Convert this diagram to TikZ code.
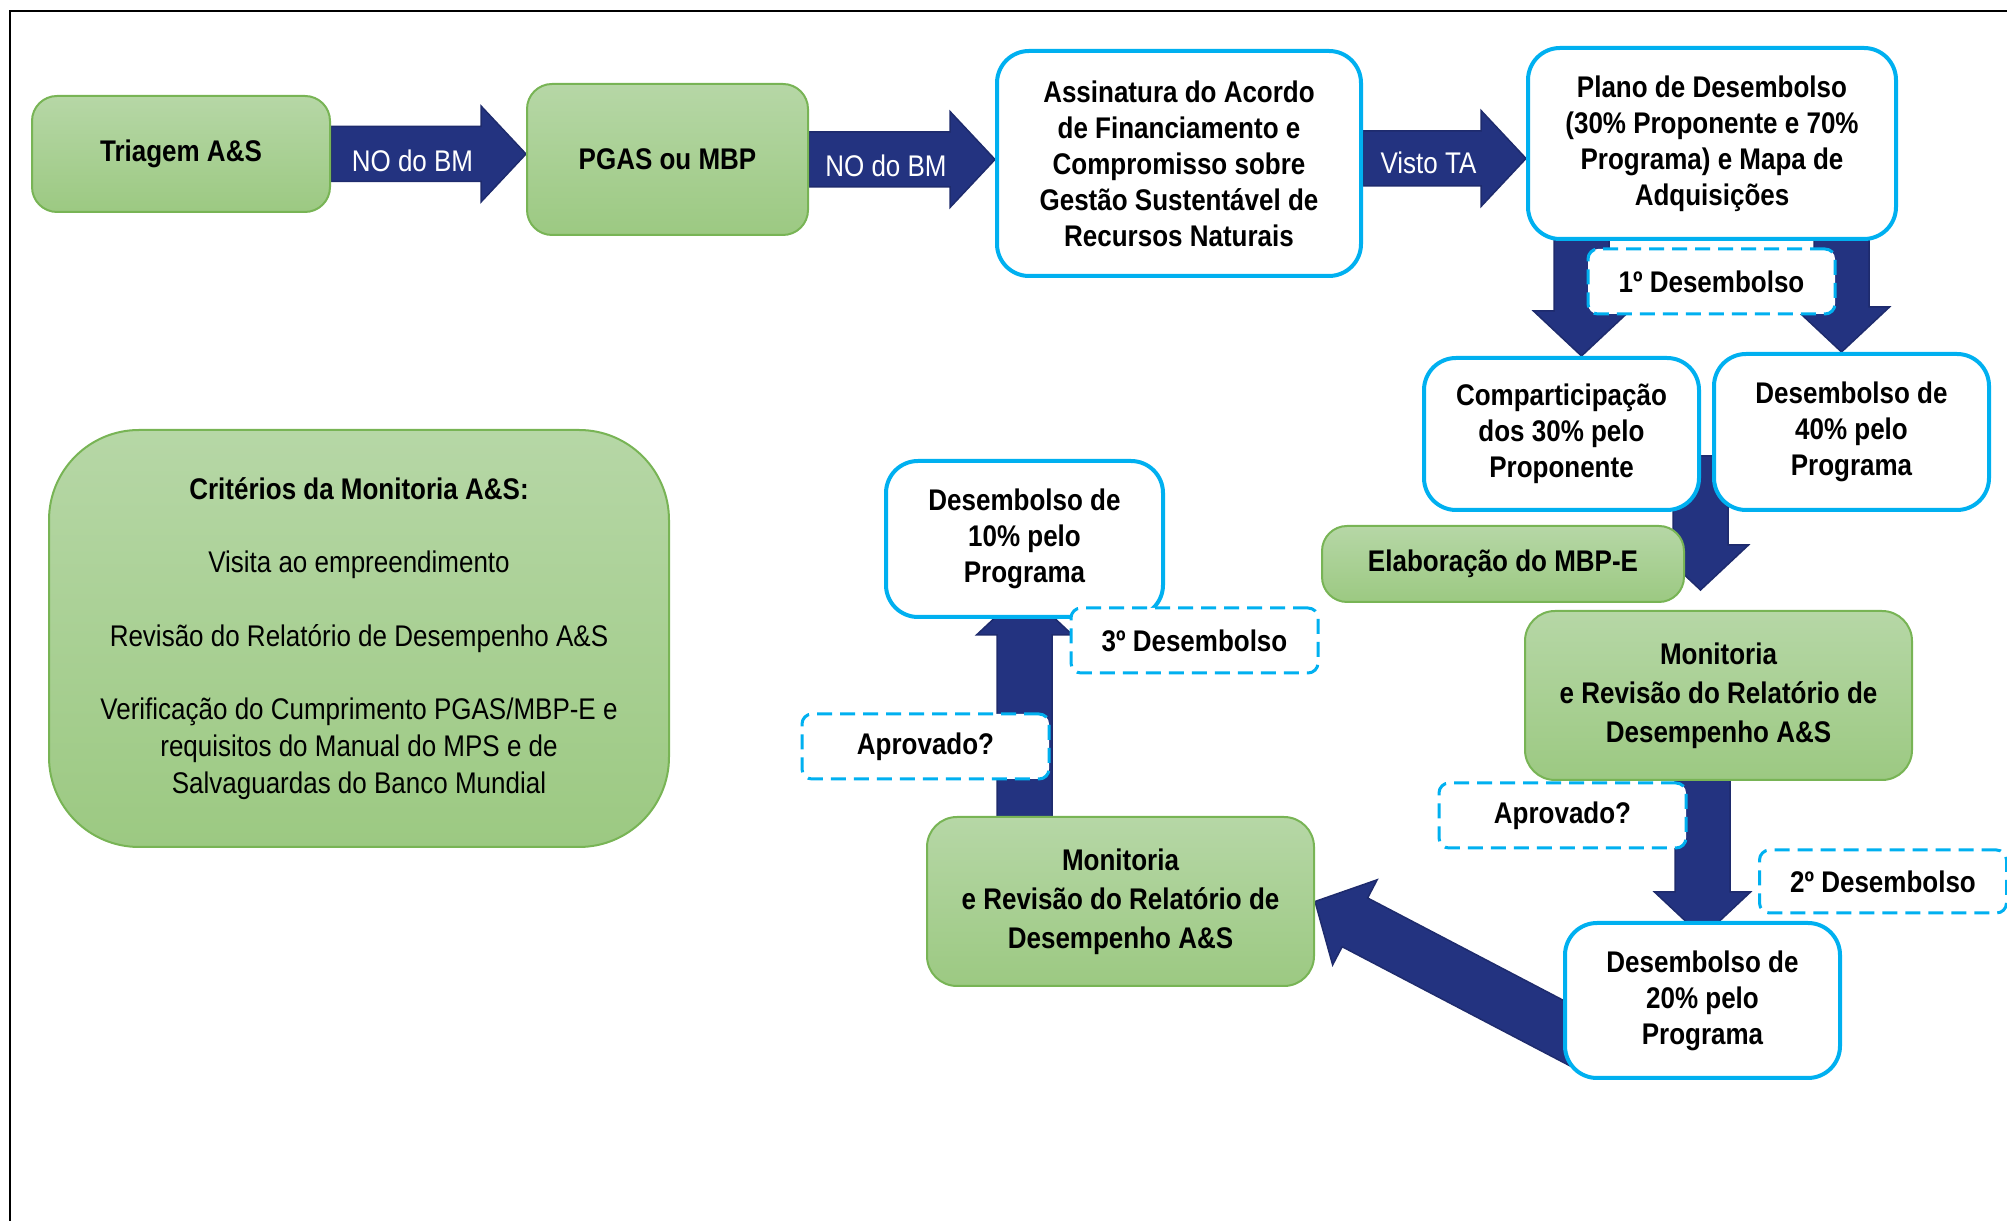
\documentclass[tikz,border=0pt]{standalone}
\usepackage{fontspec}
\setmainfont[FakeStretch=0.87]{Liberation Sans}
\usepackage{tikz}
\usetikzlibrary{calc,backgrounds}

\definecolor{navyArrow}{RGB}{35,51,128}
\definecolor{greenTop}{RGB}{182,215,166}
\definecolor{greenBot}{RGB}{156,201,130}
\definecolor{greenLine}{RGB}{120,180,85}
\definecolor{cyanLine}{RGB}{0,176,240}

\newcommand{\boxfont}{\fontsize{8.5pt}{10.25pt}\selectfont}

\tikzstyle{frame}=[line width=0.2mm]
\tikzstyle{greenbox}=[
	 rectangle, rounded corners=2.5mm,
	 draw=greenLine, line width=0.2mm,
	 top color=greenTop, bottom color=greenBot,
	 inner sep=0pt, align=center, font=\boxfont\bfseries
    ]
\tikzstyle{bluebox}=[
	 rectangle, rounded corners=3.2mm,
	 draw=cyanLine, line width=0.4mm, fill=white,
	 inner sep=0pt, align=center, font=\boxfont\bfseries
    ]
\tikzstyle{tagbox}=[
	 rectangle, rounded corners=1mm,
	 draw=cyanLine, line width=0.3mm, dash pattern=on 1.5mm off 0.8mm,
	 fill=white, inner sep=0pt, align=center, font=\boxfont\bfseries,
	 minimum width=24.7mm, minimum height=6.5mm
    ]
\tikzstyle{arrowlabel}=[text=white, font=\boxfont, xshift=-1.6mm, yshift=-0.4mm]
\tikzstyle{arrowfill}=[fill=navyArrow, draw=navyArrow!85!black, line width=0.15mm]

\newcommand{\bigArrow}[2]{
  \coordinate (ba-s) at (#1);
  \coordinate (ba-e) at (#2);
  \coordinate (ba-h) at ($(ba-e)!4.5mm!(ba-s)$);
  \filldraw[arrowfill] ($(ba-s)!2.75mm!90:(ba-e)$) -- ($(ba-h)!2.75mm!-90:(ba-s)$)
    -- ($(ba-h)!4.8mm!-90:(ba-s)$) -- (ba-e) -- ($(ba-h)!4.8mm!90:(ba-s)$)
    -- ($(ba-h)!2.75mm!90:(ba-s)$) -- ($(ba-s)!2.75mm!-90:(ba-e)$) -- cycle;
}

\begin{document}
\begin{tikzpicture}[x=0.1mm,y=-0.1mm]
\useasboundingbox (0,0) rectangle (2007,1221);
\draw[frame] (10,1221) -- (10,11) -- (2007,11);

% top row
\node[greenbox, minimum width=29.8mm, minimum height=11.6mm] (triage) at (181,154) {Triagem A\&S};
\node[greenbox, minimum width=28.1mm, minimum height=15.1mm] (pgas) at (667.5,159.5) {PGAS ou MBP};
\node[bluebox, minimum width=36.4mm, minimum height=22.5mm] (assin) at (1179,163.5)
  {Assinatura do Acordo\\de Financiamento e\\Compromisso sobre\\Gestão Sustentável de\\Recursos Naturais};
\node[bluebox, minimum width=36.8mm, minimum height=19.1mm] (plano) at (1712,143.5)
  {Plano de Desembolso\\(30\% Proponente e 70\%\\Programa) e Mapa de\\Adquisições};

% first disbursement
\node[bluebox, minimum width=27.5mm, minimum height=15.2mm] (comp) at (1561.5,434)
  {Comparticipação\\dos 30\% pelo\\Proponente};
\node[bluebox, minimum width=27.5mm, minimum height=15.6mm] (p40) at (1851.5,432)
  {Desembolso de\\40\% pelo\\Programa};
\node[greenbox, minimum width=36.2mm, minimum height=7.6mm] (mbpe) at (1503,564) {Elaboração do MBP-E};
\node[greenbox, rounded corners=3mm, font=\fontsize{8.5pt}{11.1pt}\selectfont\bfseries,
  minimum width=38.7mm, minimum height=16.9mm] (mon1) at (1718.5,695.5)
  {Monitoria\\e Revisão do Relatório de\\Desempenho A\&S};

% second and third disbursement
\node[bluebox, minimum width=27.5mm, minimum height=15.5mm] (d20) at (1702.5,1000.5)
  {Desembolso de\\20\% pelo\\Programa};
\node[greenbox, rounded corners=3mm, font=\fontsize{8.5pt}{11.1pt}\selectfont\bfseries,
  minimum width=38.7mm, minimum height=16.9mm] (mon2) at (1120.5,901.5)
  {Monitoria\\e Revisão do Relatório de\\Desempenho A\&S};
\node[bluebox, minimum width=27.7mm, minimum height=15.6mm] (d10) at (1024.5,539)
  {Desembolso de\\10\% pelo\\Programa};

% criteria
\node[greenbox, rounded corners=9mm, font=\fontsize{8.5pt}{10.45pt}\selectfont,
  minimum width=62mm, minimum height=41.7mm] (crit) at (359,638.5)
  {\textbf{Critérios da Monitoria A\&S:}\\[10.45pt]
   Visita ao empreendimento\\[10.45pt]
   Revisão do Relatório de Desempenho A\&S\\[10.45pt]
   Verificação do Cumprimento PGAS/MBP-E e\\requisitos do Manual do MPS e de\\Salvaguardas do Banco Mundial};

\coordinate (v0) at ($(assin.east)+(0,-5)$);
\coordinate (p1) at ($(comp.north)+(20,0)$);
\coordinate (p2) at ($(p40.north)+(-10,0)$);
\coordinate (m0) at ($(comp.east)!.5!(p40.west)+(-6,23)$);

\begin{pgfonlayer}{background}
\bigArrow{triage.east}{triage.east -| pgas.west};
\bigArrow{pgas.east}{pgas.east -| assin.west};
\bigArrow{v0}{v0 -| plano.west};
\bigArrow{p1 |- plano.center}{p1};
\bigArrow{p2 |- plano.center}{p2};
\bigArrow{m0}{$(m0 |- mon1.north)+(0,-20)$};
\bigArrow{d20.north |- mon1.center}{$(d20.north)+(0,16)$};
\bigArrow{$(d20.west)+(35,49)$}{mon2.east};
\bigArrow{d10.south |- mon2.center}{$(d10.south)+(0,-29)$};
\end{pgfonlayer}

\node[arrowlabel] at ($(triage.east)!.5!(pgas.west)$) {NO do BM};
\node[arrowlabel] at ($(pgas.east)!.5!(assin.west)$) {NO do BM};
\node[arrowlabel] at ($(v0)!.5!(v0 -| plano.west)$) {Visto TA};

% dashed tags
\node[tagbox] (des1) at (1711.5,281.5) {1º Desembolso};
\node[tagbox] (apr1) at (1562.5,815.5) {Aprovado?};
\node[tagbox, minimum height=6.3mm] (des2) at (1883,881.5) {2º Desembolso};
\node[tagbox] (des3) at (1194.5,640.5) {3º Desembolso};
\node[tagbox] (apr2) at (925.5,746.5) {Aprovado?};

\end{tikzpicture}
\end{document}
